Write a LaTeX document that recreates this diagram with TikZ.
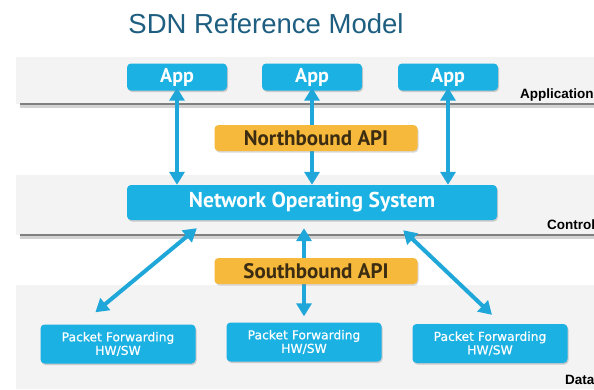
\documentclass[tikz,border=0pt]{standalone}
\usepackage{fontspec}
\setmainfont{Liberation Sans}
\newfontfamily\boxfont{PT Sans}
\newfontfamily\pffont[FakeBold=0.35]{DejaVu Sans}
\usetikzlibrary{arrows.meta,shadows,calc}

\definecolor{sdnblue}{HTML}{1BB1E3}
\definecolor{arrowblue}{HTML}{1EA7D8}
\definecolor{apiorange}{HTML}{F6B93B}
\definecolor{apitext}{HTML}{3B2C12}
\definecolor{titleblue}{HTML}{1E5E80}
\definecolor{bandgray}{HTML}{F3F3F3}
\definecolor{rulegray}{HTML}{808080}

\tikzset{
  x=1pt, y=-1pt,
  >={Triangle[width=15pt,length=13pt]},
  band/.style={fill=bandgray, draw=none},
  layerrule/.style={draw=rulegray, line width=2.8pt},
  rulehalo/.style={draw=rulegray!35, line width=5pt},
  bluebox/.style={fill=sdnblue, draw=none, rounded corners=4pt, text=white,
    drop shadow={opacity=0.35, shadow xshift=1pt, shadow yshift=-1.5pt},
    inner sep=0pt, align=center},
  appbox/.style={bluebox, minimum width=100pt, minimum height=27pt,
    font=\boxfont\bfseries\fontsize{20}{20}\selectfont},
  nosbox/.style={bluebox, minimum width=370pt, minimum height=35pt,
    font=\boxfont\bfseries\fontsize{21.5}{22}\selectfont},
  pfbox/.style={bluebox, minimum width=155pt, minimum height=39pt,
    font=\pffont\fontsize{12.3}{13.5}\selectfont},
  apibox/.style={fill=apiorange, draw=none, rounded corners=4pt, text=apitext,
    drop shadow={opacity=0.3, shadow xshift=1pt, shadow yshift=-1.5pt},
    inner sep=0pt, minimum width=203pt, minimum height=26pt,
    font=\boxfont\bfseries\fontsize{21}{21}\selectfont},
  layerlabel/.style={anchor=west, inner sep=0pt, font=\bfseries\fontsize{13.5}{15}\selectfont},
  link/.style={draw=arrowblue, line width=4pt, <->},
}

\begin{document}
\begin{tikzpicture}
\useasboundingbox (0,0) rectangle (594,389);
\fill[white] (0,0) rectangle (594,389);

% title
\node[text=titleblue, font=\fontsize{27.5}{29}\selectfont, inner sep=0pt] (title) at (266,24) {SDN Reference Model};

% layer bands and their rules
\fill[band] (16,57) rectangle (594,104);
\fill[band] (16,175) rectangle (594,235);
\fill[band] (16,285) rectangle (594,389);
\foreach \y in {104,235} {
  \draw[rulehalo] (20,\y+1) -- (594,\y+1);
  \draw[layerrule] (20,\y) -- (594,\y);
}

% layer names (running off the right edge)
\node[layerlabel] (lapp) at (520,95) {Application};
\node[layerlabel] (lctl) at (547,225) {Control};
\node[layerlabel] (ldat) at (565,380) {Data};

% boxes
\node[appbox] (app1) at (177,77) {App};
\node[appbox] (app2) at (312,77) {App};
\node[appbox] (app3) at (448,77) {App};
\node[nosbox] (nos) at (312,202.5) {Network Operating System};
\node[pfbox] (pf1) at (118,344) {Packet Forwarding\\HW/SW};
\node[pfbox] (pf2) at (304,342) {Packet Forwarding\\HW/SW};
\node[pfbox] (pf3) at (490,343.5) {Packet Forwarding\\HW/SW};

% northbound links
\draw[link] ([yshift=3pt]app1.south) -- (app1.south |- nos.north);
\draw[link] ([yshift=3pt]app2.south) -- (app2.south |- nos.north);
\draw[link] ([yshift=3pt]app3.south) -- (app3.south |- nos.north);

% southbound links
\draw[link] ([xshift=70pt,yshift=-8pt]nos.south west) -- ([xshift=55pt,yshift=12pt]pf1.north west);
\draw[link] ([yshift=-8pt]nos.south -| pf2.north) -- ([yshift=6pt]pf2.north);
\draw[link] ([xshift=-94pt,yshift=-10pt]nos.south east) -- ([xshift=2pt,yshift=9pt]pf3.north);

% API labels on top of the links
\node[apibox] (nb) at (316,138) {Northbound API};
\node[apibox] (sb) at (316,271) {Southbound API};
\end{tikzpicture}
\end{document}
